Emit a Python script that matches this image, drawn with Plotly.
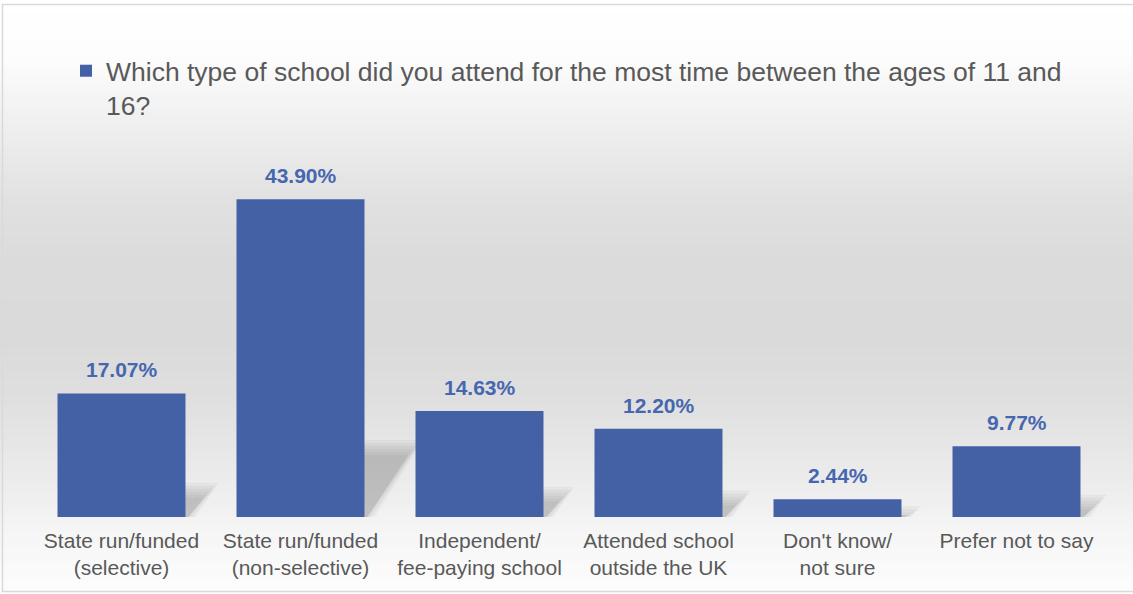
import plotly.graph_objects as go

# ---- data ----
categories = [
    "State run/funded<br>(selective)",
    "State run/funded<br>(non-selective)",
    "Independent/<br>fee-paying school",
    "Attended school<br>outside the UK",
    "Don't know/<br>not sure",
    "Prefer not to say",
]
values = [17.07, 43.90, 14.63, 12.20, 2.44, 9.77]
series_name = ("Which type of school did you attend for the most time between the ages of 11 and<br>16?")

# ---- layout geometry (pixels) ----
W, H = 1133, 594
ML, MR, MT, MB = 32, 27, 155, 77
PW, PH = W - ML - MR, H - MT - MB
YMAX = 50
BARGAP = 0.285
FONT = "Liberation Sans, Arial, sans-serif"
TEXT_GRAY = "#595959"
BAR_COLOR = "#4461A6"
LABEL_COLOR = "#4667AF"


def px_x(px):
    return (px - ML) / PW


def px_y(py):
    return (H - MB - py) / PH


xs = list(range(len(categories)))

fig = go.Figure()
fig.add_trace(go.Bar(
    x=xs, y=values, name=series_name,
    marker=dict(color=BAR_COLOR, line=dict(width=0)),
    showlegend=True,
    hoverinfo="skip",
))

shapes = []

# background vertical gradient (white -> grey -> white)
stops = [(0, 255), (55, 253), (130, 238), (200, 225), (260, 219), (340, 218),
         (400, 223), (450, 231), (500, 239), (530, 245), (570, 250), (594, 253)]


def grey_at(py):
    for (a, ga), (b, gb) in zip(stops[:-1], stops[1:]):
        if a <= py <= b:
            t = (py - a) / (b - a) if b > a else 0
            return ga + (gb - ga) * t
    return stops[-1][1]


step = 4
for py in range(0, H, step):
    g = int(round(grey_at(py + step / 2)))
    shapes.append(dict(type="rect", xref="paper", yref="paper",
                       x0=px_x(-5), x1=px_x(W + 40), y0=px_y(py + step + 0.5), y1=px_y(py),
                       fillcolor=f"rgb({g},{g},{g})", line=dict(width=0), layer="below"))

# soft shadows derived from the bar values (blur faked with dilated layers)
half = (1 - BARGAP) / 2
px_per_unit = PH / YMAX
x_unit_px = PW / len(categories)
for i, v in zip(xs, values):
    hpx = v * px_per_unit
    s_px = 10 + 0.13 * hpx
    top_px = 0.22 * hpx
    for d in [-8, -5, -2, 1, 4, 7]:
        L = i - half
        R = i + half
        brx = R + (3 + max(d, 0)) / x_unit_px
        trx = R + (s_px + d) / x_unit_px
        tlx = L + s_px / x_unit_px
        ty = max(top_px + d, 2) / px_per_unit
        path = (f"M {L},0 L {brx},0 L {trx},{ty} L {tlx},{ty} Z")
        shapes.append(dict(type="path", xref="x", yref="y", path=path,
                           fillcolor="rgba(0,0,0,0.034)", line=dict(width=0), layer="below"))

# chart border (left, top, bottom; right edge runs off the picture)
shapes.append(dict(type="rect", xref="paper", yref="paper",
                   x0=px_x(2.5), x1=px_x(W + 60), y0=px_y(591.5), y1=px_y(4.5),
                   line=dict(color="#d9d9d9", width=1.5), fillcolor="rgba(0,0,0,0)", layer="above"))

annotations = []
for i, v in zip(xs, values):
    annotations.append(dict(x=i, y=v, xref="x", yref="y", text=f"<b>{v:.2f}%</b>",
                            showarrow=False, yanchor="bottom", yshift=10,
                            font=dict(family=FONT, size=21, color=LABEL_COLOR)))

fig.update_layout(
    width=W, height=H,
    margin=dict(l=ML, r=MR, t=MT, b=MB, pad=0),
    paper_bgcolor="white",
    plot_bgcolor="rgba(0,0,0,0)",
    bargap=BARGAP,
    font=dict(family=FONT, color=TEXT_GRAY, size=21),
    shapes=shapes,
    annotations=annotations,
    showlegend=True,
    legend=dict(x=px_x(66), y=px_y(47), xanchor="left", yanchor="top",
                xref="paper", yref="paper",
                orientation="h", valign="top", itemwidth=30,
                font=dict(family=FONT, size=26.5, color=TEXT_GRAY),
                bgcolor="rgba(0,0,0,0)", borderwidth=0),
    xaxis=dict(range=[-0.5, len(categories) - 0.5], tickmode="array", tickvals=xs,
               ticktext=categories, showgrid=False, zeroline=False, showline=False,
               ticks="", tickfont=dict(family=FONT, size=21, color=TEXT_GRAY),
               ticklabelstandoff=9, fixedrange=True),
    yaxis=dict(range=[0, YMAX], visible=False, showgrid=False, zeroline=False,
               fixedrange=True),
)

fig.write_html("out.html", config={"displayModeBar": False},
               post_script="document.body.style.margin='0';document.body.style.overflow='hidden';")
